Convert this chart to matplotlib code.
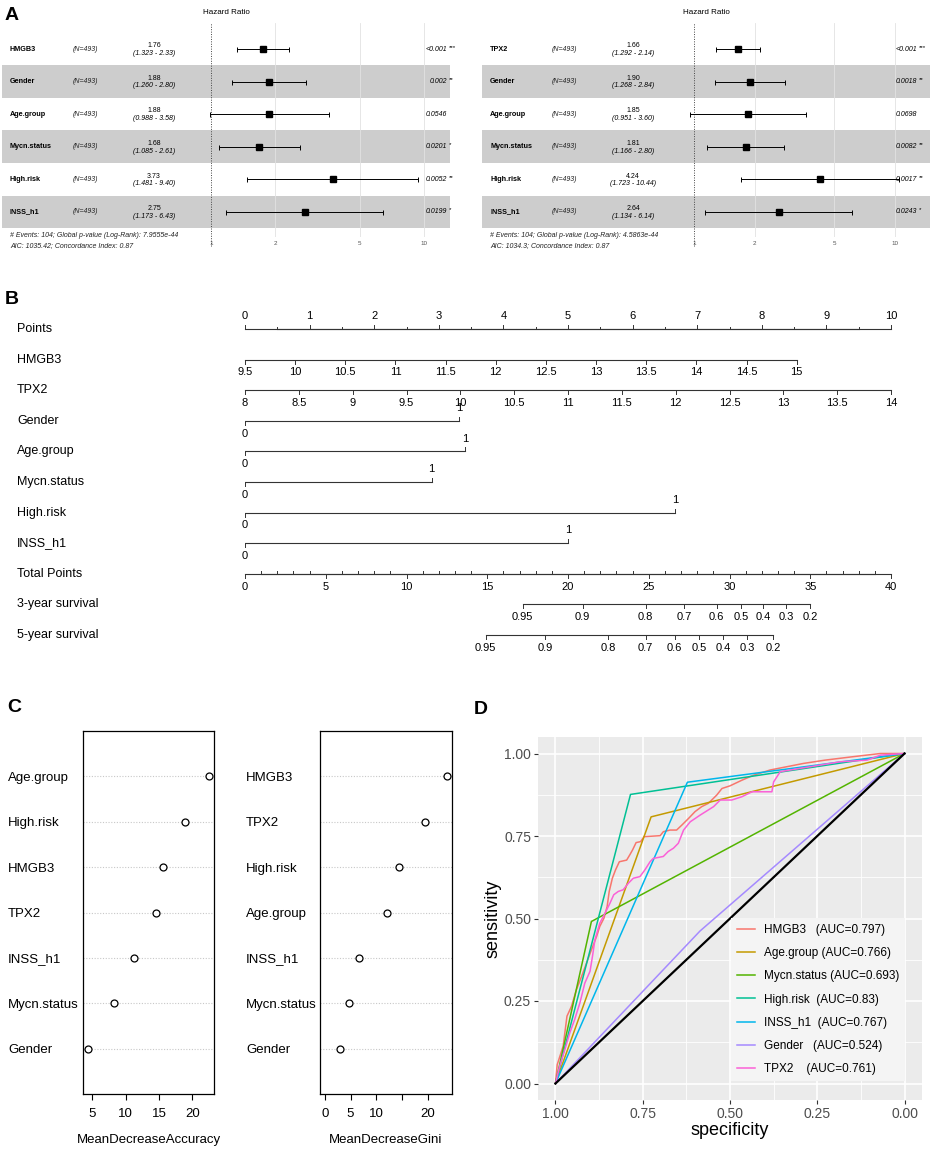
import numpy as np
import matplotlib
matplotlib.use("Agg")
import matplotlib.pyplot as plt
from matplotlib.transforms import blended_transform_factory
from matplotlib.ticker import FixedLocator, NullLocator

plt.rcParams['font.family'] = ['Liberation Sans', 'DejaVu Sans']

W, H = 941, 1150

# ---------------- A: multivariate Cox forest plots ----------------
forest_vars_left = ["HMGB3", "Gender", "Age.group", "Mycn.status", "High.risk", "INSS_h1"]
hr_left = [1.76, 1.88, 1.88, 1.68, 3.73, 2.75]
lo_left = [1.323, 1.260, 0.988, 1.085, 1.481, 1.173]
hi_left = [2.33, 2.80, 3.58, 2.61, 9.40, 6.43]
p_left = ["<0.001", "0.002", "0.0546", "0.0201", "0.0052", "0.0199"]
stars_left = ["***", "**", "", "*", "**", "*"]
foot_left = ["# Events: 104; Global p-value (Log-Rank): 7.9555e-44",
             "AIC: 1035.42; Concordance Index: 0.87"]

forest_vars_right = ["TPX2", "Gender", "Age.group", "Mycn.status", "High.risk", "INSS_h1"]
hr_right = [1.66, 1.90, 1.85, 1.81, 4.24, 2.64]
lo_right = [1.292, 1.268, 0.951, 1.166, 1.723, 1.134]
hi_right = [2.14, 2.84, 3.60, 2.80, 10.44, 6.14]
p_right = ["<0.001", "0.0018", "0.0698", "0.0082", "0.0017", "0.0243"]
stars_right = ["***", "**", "", "**", "**", "*"]
foot_right = ["# Events: 104; Global p-value (Log-Rank): 4.5863e-44",
              "AIC: 1034.3; Concordance Index: 0.87"]
n_label = "(N=493)"
hr_ticks = [1, 2, 5, 10]

# ---------------- B: nomogram ----------------
nomo_rows = ["Points", "HMGB3", "TPX2", "Gender", "Age.group", "Mycn.status",
             "High.risk", "INSS_h1", "Total Points", "3-year survival", "5-year survival"]
hmgb3_vals = [9.5, 10, 10.5, 11, 11.5, 12, 12.5, 13, 13.5, 14, 14.5, 15]
hmgb3_max_pts = 8.54
tpx2_vals = [8, 8.5, 9, 9.5, 10, 10.5, 11, 11.5, 12, 12.5, 13, 13.5, 14]
tpx2_max_pts = 10.0
binary_vars = ["Gender", "Age.group", "Mycn.status", "High.risk", "INSS_h1"]
binary_pts = [3.31, 3.41, 2.89, 6.66, 5.00]
surv_probs = ["0.95", "0.9", "0.8", "0.7", "0.6", "0.5", "0.4", "0.3", "0.2"]
surv3_total = [17.2, 20.9, 24.8, 27.2, 29.2, 30.7, 32.1, 33.5, 35.0]
surv5_total = [14.9, 18.6, 22.5, 24.8, 26.6, 28.1, 29.6, 31.1, 32.7]

# ---------------- C: random forest importance ----------------
acc_vars = ["Age.group", "High.risk", "HMGB3", "TPX2", "INSS_h1", "Mycn.status", "Gender"]
acc_vals = [22.5, 18.9, 15.55, 14.5, 11.2, 8.23, 4.35]
gini_vars = ["HMGB3", "TPX2", "High.risk", "Age.group", "INSS_h1", "Mycn.status", "Gender"]
gini_vals = [23.78, 19.54, 14.46, 12.12, 6.64, 4.76, 2.93]

# ---------------- D: ROC curves ----------------
hmgb3_spec = [1.0, 0.995, 0.978, 0.967, 0.954, 0.940, 0.925, 0.911, 0.897, 0.882, 0.873,
              0.861, 0.852, 0.846, 0.837, 0.828, 0.817, 0.796, 0.787, 0.779, 0.769, 0.756,
              0.746, 0.700, 0.691, 0.672, 0.653, 0.638, 0.619, 0.600, 0.581, 0.562, 0.538,
              0.523, 0.500, 0.466, 0.433, 0.385, 0.337, 0.289, 0.227, 0.150, 0.069, 0.0]
hmgb3_sens = [0.0, 0.057, 0.113, 0.204, 0.234, 0.284, 0.325, 0.365, 0.405, 0.446, 0.476,
              0.501, 0.536, 0.582, 0.622, 0.647, 0.672, 0.677, 0.693, 0.708, 0.730, 0.733,
              0.748, 0.751, 0.763, 0.768, 0.768, 0.783, 0.803, 0.824, 0.839, 0.849, 0.874,
              0.894, 0.902, 0.919, 0.934, 0.950, 0.960, 0.970, 0.980, 0.990, 1.0, 1.0]
tpx2_spec = [1.0, 0.988, 0.973, 0.959, 0.945, 0.930, 0.916, 0.901, 0.894, 0.887, 0.873,
             0.858, 0.844, 0.833, 0.820, 0.806, 0.791, 0.777, 0.758, 0.744, 0.729, 0.720,
             0.691, 0.677, 0.662, 0.648, 0.633, 0.614, 0.586, 0.547, 0.528, 0.495, 0.466,
             0.437, 0.380, 0.375, 0.356, 0.299, 0.241, 0.184, 0.107, 0.069, 0.0]
tpx2_sens = [0.0, 0.052, 0.103, 0.153, 0.194, 0.244, 0.304, 0.340, 0.385, 0.435, 0.486,
             0.516, 0.546, 0.572, 0.582, 0.587, 0.607, 0.622, 0.627, 0.647, 0.672, 0.682,
             0.688, 0.703, 0.713, 0.728, 0.768, 0.793, 0.813, 0.839, 0.859, 0.859, 0.869,
             0.884, 0.884, 0.914, 0.945, 0.955, 0.965, 0.975, 0.980, 0.995, 1.0]
age_spec, age_sens = [1.0, 0.726, 0.0], [0.0, 0.808, 1.0]
mycn_spec, mycn_sens = [1.0, 0.897, 0.0], [0.0, 0.491, 1.0]
risk_spec, risk_sens = [1.0, 0.785, 0.0], [0.0, 0.876, 1.0]
inss_spec, inss_sens = [1.0, 0.622, 0.0], [0.0, 0.913, 1.0]
gender_spec, gender_sens = [1.0, 0.586, 0.0], [0.0, 0.462, 1.0]
roc_labels = ["HMGB3   (AUC=0.797)", "Age.group (AUC=0.766)", "Mycn.status (AUC=0.693)",
              "High.risk  (AUC=0.83)", "INSS_h1  (AUC=0.767)", "Gender   (AUC=0.524)",
              "TPX2    (AUC=0.761)"]
roc_colors = ["#F8766D", "#C49A00", "#53B400", "#00C094", "#00B6EB", "#A58AFF", "#FB61D7"]


def px_rect(x0, y0, x1, y1):
    return [x0 / W, 1 - y1 / H, (x1 - x0) / W, (y1 - y0) / H]


fig = plt.figure(figsize=(W / 100, H / 100), dpi=100)


def forest(rect, names, hr, lo, hi, pv, stars, foot, cols):
    ax = fig.add_axes(px_rect(*rect))
    ax.set_xscale('log')
    x0, x1 = rect[0], rect[2]
    one_px, decade = cols['one'], cols['decade']
    ax.set_xlim(10 ** ((x0 - one_px) / decade), 10 ** ((x1 - one_px) / decade))
    ax.set_ylim(5.77, -0.8)
    n = len(names)
    y = np.arange(n)
    for i in range(n):
        if i % 2 == 1:
            ax.axhspan(i - 0.5, i + 0.5, color='#cdcdcd', lw=0, zorder=0)
    for g in hr_ticks[1:]:
        ax.axvline(g, color='#e2e2e2', lw=0.6, zorder=1)
    ax.axvline(1, color='#444444', ls=(0, (1, 1.5)), lw=0.7, ymin=-0.04, clip_on=False, zorder=2)
    hr_a, lo_a, hi_a = np.array(hr), np.array(lo), np.array(hi)
    ax.errorbar(hr_a, y, xerr=[hr_a - lo_a, hi_a - hr_a], fmt='s', color='black',
                ms=4.3, capsize=1.8, elinewidth=0.7, capthick=0.7, zorder=3)
    ax.set_xticks(hr_ticks, [str(t) for t in hr_ticks])
    ax.xaxis.set_minor_locator(NullLocator())
    ax.tick_params(axis='x', length=0, labelsize=4.5, colors='#555555', pad=3)
    ax.set_yticks([])
    for s in ax.spines.values():
        s.set_visible(False)
    tr = blended_transform_factory(ax.transAxes, ax.transData)
    w = x1 - x0
    fx = lambda px: (px - x0) / w
    for i in range(n):
        ax.text(fx(cols['name']), i, names[i], fontweight='bold', fontsize=5.2,
                va='center', transform=tr)
        ax.text(fx(cols['n']), i, n_label, style='italic', fontsize=5,
                va='center', transform=tr, color='#222222')
        ax.text(fx(cols['hr']), i - 0.1, f"{hr[i]:.2f}", fontsize=5, ha='center',
                va='center', transform=tr)
        ax.text(fx(cols['hr']), i + 0.13, f"({lo[i]:.3f} - {hi[i]:.2f})", fontsize=5,
                style='italic', ha='center', va='center', transform=tr)
        ax.text(fx(cols['p']), i, pv[i], fontsize=5, style='italic', ha='right',
                va='center', transform=tr)
        ax.text(fx(cols['p'] + 2), i - 0.06, stars[i], fontsize=4.5, ha='left',
                va='center', transform=tr)
    ax.text(0.5, 1.047, "Hazard Ratio", fontsize=5.8, ha='center', va='center',
            transform=ax.transAxes)
    ax.text(fx(cols['name']), 0.009, foot[0], fontsize=5, style='italic',
            va='center', transform=ax.transAxes, color='#222222')
    ax.text(fx(cols['name']), -0.042, foot[1], fontsize=5, style='italic',
            va='center', transform=ax.transAxes, color='#222222')


forest((2, 23, 450, 237), forest_vars_left, hr_left, lo_left, hi_left, p_left,
       stars_left, foot_left,
       dict(one=211, decade=213, name=10, n=73, hr=154, p=447))
forest((482, 23, 930, 237), forest_vars_right, hr_right, lo_right, hi_right, p_right,
       stars_right, foot_right,
       dict(one=694, decade=201, name=490, n=552, hr=633, p=917))

# ---------------- B ----------------
b_rect = px_rect(245, 300, 891, 660)
ylim_b = (10.82, -0.948)
axb = fig.add_axes(b_rect)
axb.set_xlim(0, 10)
axb.set_ylim(*ylim_b)
axb.axis('off')
axt = fig.add_axes(b_rect)
axt.set_xlim(0, 40)
axt.set_ylim(*ylim_b)
axt.axis('off')

trb = blended_transform_factory(axb.transAxes, axb.transData)
for i, lab in enumerate(nomo_rows):
    axb.text((17 - 245) / 646, i, lab, fontsize=9, va='center', ha='left',
             transform=trb, clip_on=False)

LC = '#333333'
TK = 0.13
LBL = 0.42


def scale_row(ax, row, pos, labels, up, tick_len=TK):
    ax.plot([min(pos), max(pos)], [row, row], color=LC, lw=0.8, clip_on=False)
    d = -1 if up else 1
    for p, l in zip(pos, labels):
        ax.plot([p, p], [row, row + d * tick_len], color=LC, lw=0.7, clip_on=False)
        if l is not None:
            ax.text(p, row + d * LBL, l, fontsize=8, ha='center', va='center',
                    clip_on=False)


# points
pts_major = list(range(0, 11))
scale_row(axb, 0, pts_major, [str(v) for v in pts_major], up=True)
pts_minor = [v + 0.5 for v in range(10)]
scale_row(axb, 0, pts_minor, [None] * len(pts_minor), up=True, tick_len=0.08)

# continuous predictors
hm_pos = [(v - hmgb3_vals[0]) / (hmgb3_vals[-1] - hmgb3_vals[0]) * hmgb3_max_pts for v in hmgb3_vals]
scale_row(axb, 1, hm_pos, [f"{v:g}" for v in hmgb3_vals], up=False)
tp_pos = [(v - tpx2_vals[0]) / (tpx2_vals[-1] - tpx2_vals[0]) * tpx2_max_pts for v in tpx2_vals]
scale_row(axb, 2, tp_pos, [f"{v:g}" for v in tpx2_vals], up=False)

# binary predictors
for k, (name, pt) in enumerate(zip(binary_vars, binary_pts)):
    row = 3 + k
    axb.plot([0, pt], [row, row], color=LC, lw=0.8)
    axb.plot([0, 0], [row, row + TK], color=LC, lw=0.7)
    axb.plot([pt, pt], [row, row - TK], color=LC, lw=0.7)
    axb.text(0, row + LBL, "0", fontsize=8, ha='center', va='center')
    axb.text(pt, row - LBL, "1", fontsize=8, ha='center', va='center')

# total points
tot_major = list(range(0, 41, 5))
scale_row(axt, 8, tot_major, [str(v) for v in tot_major], up=False)
tot_minor = [v for v in range(41) if v % 5 != 0]
scale_row(axt, 8, tot_minor, [None] * len(tot_minor), up=True, tick_len=0.08)

scale_row(axt, 9, surv3_total, surv_probs, up=False)
scale_row(axt, 10, surv5_total, surv_probs, up=False)

# ---------------- C ----------------
def dotchart(rect, names, vals, from_zero, xticks, xticklabels, xlabel, label_px):
    ax = fig.add_axes(px_rect(*rect))
    n = len(names)
    ypos = [n - i for i in range(n)]
    lo = 0 if from_zero else min(vals)
    hi = max(vals)
    ext = 0.04 * (hi - lo)
    ax.set_xlim(lo - ext, hi + ext)
    ax.set_ylim(0, n + 1)
    for yy in ypos:
        ax.axhline(yy, color='#c8c8c8', ls=(0, (1, 1.5)), lw=0.8, zorder=1)
    ax.plot(vals, ypos, 'o', mfc='white', mec='black', ms=5, mew=0.9, zorder=3)
    ax.set_yticks(ypos, names)
    pad = (rect[0] - label_px) * 72 / 100
    ax.tick_params(axis='y', length=0, labelsize=9.5, pad=pad)
    for t in ax.get_yticklabels():
        t.set_ha('left')
    ax.set_xticks(xticks, xticklabels)
    ax.tick_params(axis='x', length=4.3, width=0.8, labelsize=9.5, pad=6)
    for s in ax.spines.values():
        s.set_linewidth(0.9)
    ax.text(0.5, -0.127, xlabel, fontsize=9.5, ha='center', va='center',
            transform=ax.transAxes)


dotchart((83, 731, 214, 1094), acc_vars, acc_vals, False, [5, 10, 15, 20],
         ['5', '10', '15', '20'], "MeanDecreaseAccuracy", 8)
dotchart((320, 731, 452, 1094), gini_vars, gini_vals, True, [0, 5, 10, 15, 20],
         ['0', '5', '10', '', '20'], "MeanDecreaseGini", 246)

# ---------------- D ----------------
axd = fig.add_axes(px_rect(538, 737, 922, 1100))
axd.set_facecolor('#EBEBEB')
for s in axd.spines.values():
    s.set_visible(False)
axd.set_xlim(1.05, -0.05)
axd.set_ylim(-0.05, 1.05)
major = [0, 0.25, 0.5, 0.75, 1.0]
axd.set_xticks(major, ['0.00', '0.25', '0.50', '0.75', '1.00'])
axd.set_yticks(major, ['0.00', '0.25', '0.50', '0.75', '1.00'])
minor = [0.125, 0.375, 0.625, 0.875]
axd.xaxis.set_minor_locator(FixedLocator(minor))
axd.yaxis.set_minor_locator(FixedLocator(minor))
axd.grid(which='major', color='white', lw=1.2)
axd.grid(which='minor', color='white', lw=0.6)
axd.set_axisbelow(True)
axd.tick_params(which='major', length=3, width=0.8, color='#333333',
                labelcolor='#4D4D4D', labelsize=10, pad=2)
axd.tick_params(which='minor', length=0)
axd.set_xlabel("specificity", fontsize=13, labelpad=1)
axd.set_ylabel("sensitivity", fontsize=13, labelpad=2)

curves = [(hmgb3_spec, hmgb3_sens), (age_spec, age_sens), (mycn_spec, mycn_sens),
          (risk_spec, risk_sens), (inss_spec, inss_sens), (gender_spec, gender_sens),
          (tpx2_spec, tpx2_sens)]
for (sp, se), lab, col in zip(curves, roc_labels, roc_colors):
    axd.plot(sp, se, color=col, lw=1.1, label=lab, zorder=3)
axd.plot([1, 0], [0, 1], color='black', lw=1.6, zorder=4)
leg = axd.legend(loc='upper left', bbox_to_anchor=((731 - 538) / 384, (1100 - 918) / 363),
                 fontsize=8.5, frameon=True, facecolor='#F4F4F4', edgecolor='none',
                 framealpha=1, fancybox=False, handlelength=1.5, labelspacing=0.95,
                 borderpad=0.5, handletextpad=0.8, borderaxespad=0)

# panel letters
for lab, (x, y) in {"A": (5, 15), "B": (5, 299), "C": (7, 707), "D": (474, 709)}.items():
    fig.text(x / W, 1 - y / H, lab, fontsize=14, fontweight='bold', va='center', ha='left')

fig.savefig("out.png", dpi=100)
